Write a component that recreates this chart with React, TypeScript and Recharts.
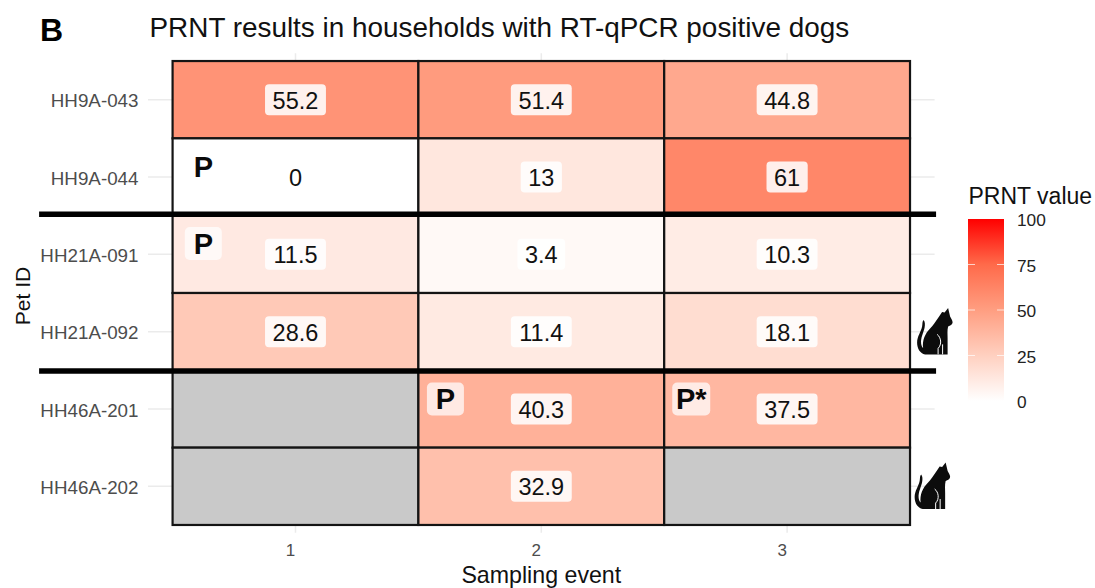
import React from "react";
import {
  ScatterChart,
  Scatter,
  XAxis,
  YAxis,
  CartesianGrid,
} from "recharts";

const FONT = '"Liberation Sans", Arial, sans-serif';

const petIds = ["HH9A-043", "HH9A-044", "HH21A-091", "HH21A-092", "HH46A-201", "HH46A-202"];
const events = [1, 2, 3];

// one list per pet, null = not sampled
const hh9a043 = [55.2, 51.4, 44.8];
const hh9a044 = [0, 13, 61];
const hh21a091 = [11.5, 3.4, 10.3];
const hh21a092 = [28.6, 11.4, 18.1];
const hh46a201 = [null, 40.3, 37.5];
const hh46a202 = [null, 32.9, null];
const petValues = [hh9a043, hh9a044, hh21a091, hh21a092, hh46a201, hh46a202];

// household separators, in row units
const householdBreaks = [2.48, 4.51];
const breakStart = -0.043;
const breakEnd = 3.606;

// "P" flags placed in the upper left of a tile
const flagLabels = ["P", "P", "P", "P*"];
const flagEvents = [0.625, 0.625, 1.61, 2.61];
const flagRows = [1.87, 2.86, 4.87, 4.87];

const catRows = [3.99, 5.99];
const catEvents = [3.6, 3.59];

const legendTicks = [100, 75, 50, 25, 0];
const legendStops: [number, string][] = [
  [0, "#ffffff"],
  [25, "#ffd0c0"],
  [50, "#ff9e81"],
  [75, "#ff6a4a"],
  [100, "#ff0000"],
];

const hex = (c: string) => [1, 3, 5].map((i) => parseInt(c.slice(i, i + 2), 16));

const colourFor = (v: number) => {
  let i = 0;
  while (i < legendStops.length - 2 && v > legendStops[i + 1][0]) i++;
  const [v0, c0] = legendStops[i];
  const [v1, c1] = legendStops[i + 1];
  const t = (v - v0) / (v1 - v0);
  const a = hex(c0);
  const b = hex(c1);
  return `rgb(${a.map((x, k) => Math.round(x + (b[k] - x) * t)).join(",")})`;
};

const cells = petValues.flatMap((vals, r) =>
  vals.map((value, c) => ({ x: events[c], y: r + 1, value }))
);
const valueCells = cells.filter((d) => d.value !== null);
const flags = flagLabels.map((label, i) => ({ label, x: flagEvents[i], y: flagRows[i] }));
const cats = catRows.map((y, i) => ({ x: catEvents[i], y }));
const breaks = householdBreaks.map((y) => ({ x: 1, y }));

const PANEL_LEFT = 148;
const PANEL_RIGHT = 934.6;
const PANEL_TOP = 53.3;
const PANEL_BOTTOM = 532.7;
const X_MIN = 0.4;
const X_MAX = 3.6;
const Y_MIN = 0.4;
const Y_MAX = 6.6;
const CELL_W = (PANEL_RIGHT - PANEL_LEFT) / (X_MAX - X_MIN);
const CELL_H = (PANEL_BOTTOM - PANEL_TOP) / (Y_MAX - Y_MIN);

const TileShape = (props: any) => {
  const { cx, cy, payload } = props;
  return (
    <rect
      x={cx - CELL_W / 2}
      y={cy - CELL_H / 2}
      width={CELL_W}
      height={CELL_H}
      fill={payload.value === null ? "#c9c9c9" : colourFor(payload.value)}
      stroke="#141414"
      strokeWidth={2.2}
    />
  );
};

const ValueShape = (props: any) => {
  const { cx, cy, payload } = props;
  const text = String(payload.value);
  const digits = text.replace(".", "").length;
  const w = digits * 13.1 + (text.includes(".") ? 6.6 : 0) + 15;
  return (
    <g>
      <rect x={cx - w / 2} y={cy - 15.5} width={w} height={31} rx={4} fill="#fff" fillOpacity={0.87} />
      <text
        x={cx}
        y={cy + 1}
        textAnchor="middle"
        dominantBaseline="central"
        fontFamily={FONT}
        fontSize={23.5}
        fill="#111"
      >
        {text}
      </text>
    </g>
  );
};

const FlagShape = (props: any) => {
  const { cx, cy, payload } = props;
  const w = payload.label.length > 1 ? 38 : 37;
  return (
    <g>
      <rect x={cx - w / 2} y={cy - 16.5} width={w} height={33} rx={5} fill="#fff" fillOpacity={0.72} />
      <text
        x={cx}
        y={cy}
        textAnchor="middle"
        dominantBaseline="central"
        fontFamily={FONT}
        fontWeight="bold"
        fontSize={29}
        fill="#0a0a0a"
      >
        {payload.label}
      </text>
    </g>
  );
};

// the separators run out past the panel on the left, so the ends are worked out from the tile width
const BreakShape = (props: any) => {
  const { cx, cy, payload } = props;
  return (
    <line
      x1={cx + (breakStart - payload.x) * CELL_W}
      x2={cx + (breakEnd - payload.x) * CELL_W}
      y1={cy}
      y2={cy}
      stroke="#000"
      strokeWidth={5.5}
    />
  );
};

const CatShape = (props: any) => {
  const { cx, cy } = props;
  return (
    <g transform={`translate(${cx - 17.5} ${cy - 23.5})`}>
      <path
        fill="#0c0c0c"
        d="M31 0.5 L33 9 C34 11 35.5 13 35.5 15 C35.5 17 33 18 31 19 C30 23 30.5 27 30.5 31 L30.5 47 L8 47 C3 46 0 41 0 35 C0 29 4 24 5 19 C5.5 16 5 14 6.5 12.5 C8 14 8 17 7.5 20 C6.5 25 3.5 30 4 36 C4.3 38 5 39.5 6 40.5 C5 33 8 26 13 21 C16 18 19 13 22 9 L25 4.5 L27.5 5 Z"
      />
      <path
        fill="none"
        stroke="#fff"
        strokeWidth={1}
        d="M20 27 C24 30 25 37 21 41 L21 47 M25.5 37 L25.5 47"
      />
    </g>
  );
};

const Overlay = () => {
  const barTop = 219;
  const barBottom = 401;
  const yFor = (v: number) => barBottom - (v / 100) * (barBottom - barTop);
  return (
    <svg width={1095} height={588} style={{ position: "absolute", left: 0, top: 0 }}>
      <defs>
        <linearGradient id="prnt" x1="0" y1="1" x2="0" y2="0">
          {legendStops.map(([v, c]) => (
            <stop key={v} offset={`${v}%`} stopColor={c} />
          ))}
        </linearGradient>
      </defs>
      <text x={40} y={41} fontFamily={FONT} fontWeight="bold" fontSize={32} fill="#000">
        B
      </text>
      <text x={149.5} y={37} fontFamily={FONT} fontSize={27.9} fill="#111">
        PRNT results in households with RT-qPCR positive dogs
      </text>
      <text x={968.5} y={204} fontFamily={FONT} fontSize={23} fill="#111">
        PRNT value
      </text>
      <rect x={968} y={barTop} width={36} height={barBottom - barTop} fill="url(#prnt)" />
      {legendTicks.map((t) => (
        <g key={t}>
          {t > 0 && t < 100 && (
            <>
              <line x1={968} x2={975} y1={yFor(t)} y2={yFor(t)} stroke="#fff" strokeOpacity={0.7} />
              <line x1={997} x2={1004} y1={yFor(t)} y2={yFor(t)} stroke="#fff" strokeOpacity={0.7} />
            </>
          )}
          <text
            x={1017}
            y={yFor(t) + 1}
            dominantBaseline="central"
            fontFamily={FONT}
            fontSize={17.3}
            fill="#222"
          >
            {t}
          </text>
        </g>
      ))}
    </svg>
  );
};

export default function App() {
  return (
    <div style={{ position: "absolute", left: 0, top: 0, width: 1095, height: 588, background: "#fff" }}>
      <Overlay />
      <div style={{ position: "absolute", left: 0, top: 0 }}>
        <ScatterChart
          width={1095}
          height={588}
          margin={{ top: PANEL_TOP, right: 1095 - PANEL_RIGHT, bottom: 0, left: 0 }}
        >
          <CartesianGrid stroke="#ebebeb" strokeWidth={1.5} syncWithTicks />
          <XAxis
            type="number"
            dataKey="x"
            domain={[X_MIN, X_MAX]}
            ticks={events}
            interval={0}
            height={588 - PANEL_BOTTOM}
            axisLine={false}
            tickLine={false}
            tickSize={0}
            tickMargin={11}
            tick={{ fontFamily: FONT, fontSize: 17, fill: "#4d4d4d", dx: -5 }}
            label={{
              value: "Sampling event",
              position: "insideBottom",
              offset: 5,
              style: { fontFamily: FONT, fontSize: 23.2, fill: "#111" },
            }}
          />
          <YAxis
            type="number"
            dataKey="y"
            reversed
            domain={[Y_MIN, Y_MAX]}
            ticks={petIds.map((_, i) => i + 1)}
            interval={0}
            width={PANEL_LEFT}
            axisLine={false}
            tickLine={false}
            tickSize={0}
            tickMargin={9.5}
            tickFormatter={(v: number) => petIds[v - 1]}
            tick={{ fontFamily: FONT, fontSize: 18.8, fill: "#4d4d4d", dy: 1 }}
            label={{
              value: "Pet ID",
              angle: -90,
              position: "insideLeft",
              offset: 23,
              dy: 3,
              style: { fontFamily: FONT, fontSize: 21, fill: "#111", textAnchor: "middle" },
            }}
          />
          <Scatter data={cells} isAnimationActive={false} shape={TileShape} />
          <Scatter data={valueCells} isAnimationActive={false} shape={ValueShape} />
          <Scatter data={flags} isAnimationActive={false} shape={FlagShape} />
          <Scatter data={cats} isAnimationActive={false} shape={CatShape} />
          <Scatter data={breaks} isAnimationActive={false} shape={BreakShape} />
        </ScatterChart>
      </div>
    </div>
  );
}
